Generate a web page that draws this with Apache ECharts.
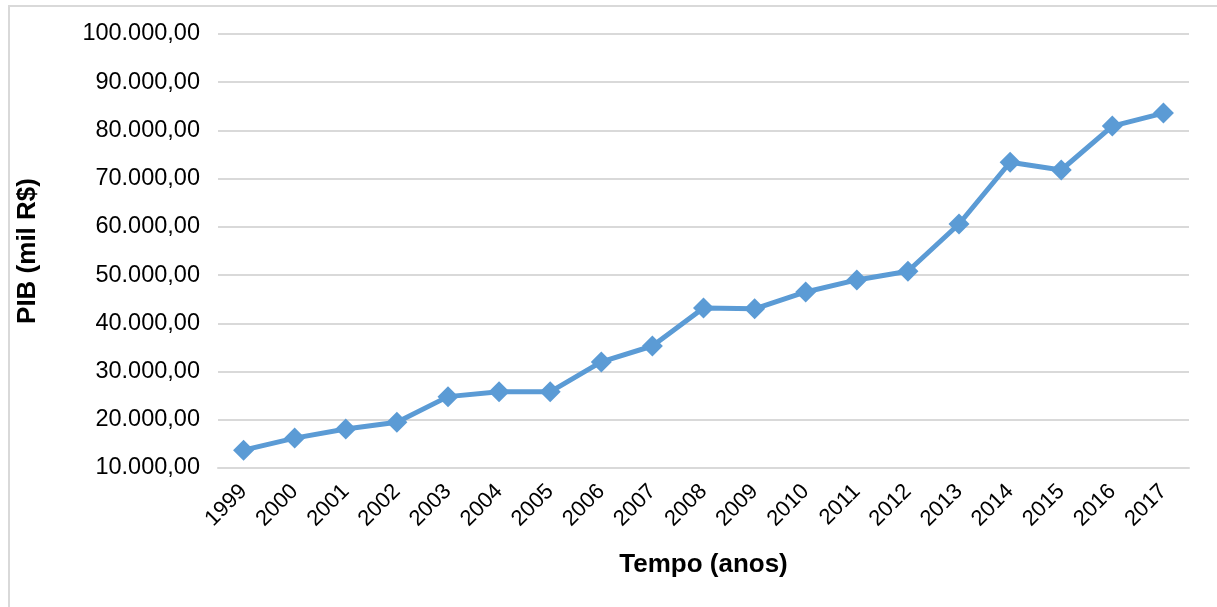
<!DOCTYPE html>
<html>
<head>
<meta charset="utf-8">
<script src="https://cdn.jsdelivr.net/npm/echarts@6/dist/echarts.min.js"></script>
<style>
  html, body { margin: 0; padding: 0; background: #fff; overflow: hidden; }
  .frame { position: absolute; left: 8px; top: 5px; width: 1240px; height: 640px; border: 2px solid #d9d9d9; box-sizing: border-box; }
  #chart { position: absolute; left: 0; top: 0; width: 1217px; height: 607px; }
</style>
</head>
<body>
<div class="frame"></div>
<div id="chart"></div>
<script>
const years = ['1999', '2000', '2001', '2002', '2003', '2004', '2005', '2006', '2007', '2008',
  '2009', '2010', '2011', '2012', '2013', '2014', '2015', '2016', '2017']
const pib = [13700, 16200, 18100, 19500, 24800, 25800, 25800, 32000, 35300, 43200,
  43000, 46500, 49000, 50800, 60600, 73400, 71800, 80900, 83600]

const fmt = v => {
  const s = Math.round(v).toString().replace(/\B(?=(\d{3})+(?!\d))/g, '.')
  return s + ',00'
}

const chart = echarts.init(document.getElementById('chart'))

const option = {
  animation: false,
  textStyle: { fontFamily: 'Liberation Sans, Arial, sans-serif' },
  grid: {
    left: 218,
    right: 28,
    top: 34,
    bottom: 139
  },
  xAxis: {
    type: 'category',
    data: years,
    name: 'Tempo (anos)',
    nameLocation: 'middle',
    nameGap: 84,
    nameTextStyle: { fontSize: 26, fontWeight: 'bold', color: '#000' },
    axisLine: { lineStyle: { color: '#d9d9d9', width: 2 } },
    axisTick: { show: false },
    axisLabel: {
      rotate: 45,
      fontSize: 22,
      color: '#000',
      margin: 20,
      interval: 0
    }
  },
  yAxis: {
    type: 'value',
    min: 10000,
    max: 100000,
    interval: 10000,
    name: 'PIB (mil R$)',
    nameLocation: 'middle',
    nameGap: 177,
    nameRotate: 90,
    nameTextStyle: { fontSize: 26, fontWeight: 'bold', color: '#000' },
    axisLine: { show: false },
    axisTick: { show: false },
    axisLabel: {
      fontSize: 23.5,
      color: '#000',
      margin: 18,
      formatter: fmt
    },
    splitLine: { lineStyle: { color: '#d9d9d9', width: 2 } }
  },
  series: [
    {
      type: 'line',
      data: pib,
      symbol: 'diamond',
      symbolSize: 21,
      lineStyle: { color: '#5b9bd5', width: 5 },
      itemStyle: { color: '#5b9bd5' }
    }
  ]
}

chart.setOption(option)
window.addEventListener('resize', () => chart.resize())
</script>
</body>
</html>
